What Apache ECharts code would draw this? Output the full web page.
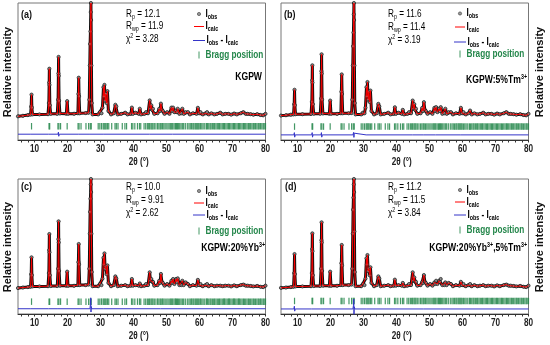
<!DOCTYPE html>
<html>
<head>
<meta charset="utf-8">
<script src="https://cdn.jsdelivr.net/npm/echarts@6.0.0/dist/echarts.min.js"></script>
<style>
html,body{margin:0;padding:0;background:#fff;}
#chart{width:550px;height:345px;}
</style>
</head>
<body>
<div id="chart"></div>
<script>
// ---------------- DATA ----------------
const twoTheta = [5.0,6.5,8.0,8.8,9.0,9.1,9.2,9.4,11.5,14.1,14.35,14.45,14.5,14.55,14.65,14.9,16.9,17.15,17.25,17.3,17.35,17.45,17.7,19.65,19.9,20.15,22.0,23.15,23.3,23.4,23.5,23.7,25.5,26.4,26.6,26.75,26.85,26.95,27.05,27.1,27.15,27.25,27.35,27.6,29.3,29.8,30.3,30.6,30.9,31.05,31.2,31.4,31.6,31.85,32.1,32.4,33.2,34.0,34.5,34.8,35.2,36.3,37.5,38.2,39.2,39.5,39.8,40.6,41.6,41.9,42.3,43.3,43.8,44.4,44.9,45.15,45.4,45.65,45.9,46.3,47.3,47.8,48.05,48.3,48.6,48.9,49.4,50.2,50.9,51.5,51.75,52.0,52.4,52.9,53.15,53.4,53.9,54.5,54.8,55.2,55.8,56.5,57.1,58.0,59.1,59.5,59.9,60.3,61.0,61.8,62.3,62.8,63.6,64.5,65.3,66.3,67.0,67.8,68.8,69.6,70.5,71.3,72.5,73.3,74.0,74.6,75.5,76.3,77.5,78.5,79.3,80.0];

const obsA = [0.3,0.8,1.4,1.8,9,19.4,8,2.0,2.0,2.2,12,30,42.2,28,10,2.5,2.5,15,38,52.6,36,14,2.8,2.6,13.7,2.6,2.6,3,20,34.3,18,3,3.2,3.5,15,45,64,75,92,100,85,45,12,2,2,4,3,8,26,18,28,14,20,12,22.5,5,2,3,10.5,9,2,2.5,3.5,2,2.5,8,2.5,3.5,2.5,7,2,2.5,4,3,14.3,7,10,6,7,2.5,3,7,5,11.5,6,5,2.5,4,2.5,8,5,8,4,5.5,4,7,2.5,3,7,2.5,4,4,2,3,2.5,7.8,3,4,2,3,4,2,3,2,2.5,3.5,2,2.5,2.5,1.8,2.8,2,3,4,2.5,2.5,2.2,1.8,2.2,1.5,1.2,2.5];
const obsB = [1.0,1.3,1.8,2.0,11,23.7,10,2.2,2.2,2.4,13,32,45.2,30,11,2.6,2.6,16,40,54.9,38,15,2.8,2.6,14.2,2.6,2.5,3,22,37.2,20,3,3,3.2,15,45,62,74,90,100,85,45,12,2,2,3.5,3,8,26,18,30.5,15,22,13,23,5,2,3,11.3,9,2,2.5,3.5,2,2.5,8.3,2.5,3.5,2.5,6,2,2.5,4,3,14.2,7,11,6,7,2.5,3,7.8,5,12.8,6,5,2.5,4,2.5,7.8,5,8.4,4,7,5,8.4,2.5,3,7,2.5,4,4,2,3,2.5,7.8,3,4,2,3,5.4,2,3,2,2.5,3.5,2,2.5,2.5,1.8,2.8,2,3,4,2.5,2.5,2.2,1.8,2.2,1.5,1.2,2.5];
const obsC = [0.3,0.8,1.2,1.5,13,28.4,12,1.8,1.8,2.0,14,35,49.7,33,12,2.2,2.2,18,45,61.3,42,16,2.5,2.4,15.3,2.4,2.4,3,24,40.6,22,3,3,3.5,18,50,70,82,95,100,88,50,15,2,2,4,3,9,28,22,32,18,20,13,21,5,2,3,11,9,2,2.5,3,2,2.5,8.6,2.5,3,2.5,4.5,2,2.5,4,3,14.7,7,8.6,6,6,2.5,3,7,5,13.2,6,5,2.5,4,2.5,7,5,8.6,4,8.6,6,9.2,3,3,7,3,5.5,4,2,3,2.5,7.8,3,4,2,3,4,2,3,2,2.5,2.5,2,2.5,2.5,1.8,2.8,2,3,3.5,2.5,2.5,2.2,1.8,2.2,1.5,1.2,2.5];
const obsD = [0.5,0.8,1.2,1.5,14,31.4,13,1.8,1.8,2.0,14,36,50.3,34,12,2.2,2.2,18,44,60.4,42,16,2.5,2.4,15.3,2.4,2.4,3,23,39.7,21,3,3,3.5,18,50,72,83,95,100,88,52,15,2,2,4,3,9,27.5,22,30.5,16,18,12,19.3,5,2,3,11,9,2,2.5,3,2,2.5,8,2.5,3,2.5,5,2,2.5,4,3,14.7,7,10,6,6,2.5,3,6,5,12.2,6,5,2.5,4,2.5,5.5,4,7,4,7,6,8.6,3,3,5.5,3,5,4,2,3,2.5,6,3,4,2,3,4,2,3,2,2.5,3,2,2.5,2.5,1.8,2.8,2,3,3.5,2.5,2.5,2.2,1.8,2.2,1.5,1.2,2.5];

// residual I_obs - I_calc : [2theta, value]
const diffA = [[5,0],[8.9,0],[9.05,1.5],[9.15,-1.5],[9.3,0],[14.3,0],[14.45,1.5],[14.55,-1.5],[14.7,0],[17.1,0],[17.25,1.8],[17.35,-1.8],[17.5,0],[23.25,0],[23.38,0.8],[23.45,-0.8],[23.6,0],[26.8,0],[27.0,1.5],[27.1,-1.5],[27.2,1.2],[27.35,0],[30.8,0],[31.0,0.8],[31.2,-0.8],[31.4,0],[44.8,0],[44.95,0.8],[45.1,-0.8],[45.3,0],[51.8,0],[52.0,0.8],[52.2,-0.8],[52.4,0],[80,0]];
const diffB = [[5,0],[8.9,0],[9.05,2],[9.15,-2],[9.3,0],[14.3,0],[14.45,2],[14.55,-2],[14.7,0],[17.1,0],[17.25,2],[17.35,-2],[17.5,0],[26.8,0],[27.0,2.2],[27.1,-2.2],[27.2,1.5],[27.35,0],[30.8,0],[31.0,1],[31.2,-1],[31.4,0],[44.8,0],[44.95,1],[45.1,-1],[45.3,0],[48.1,0],[48.3,0.8],[48.5,-0.8],[48.7,0],[51.8,0],[52.0,1],[52.2,-1],[52.4,0],[59.3,0],[59.5,0.8],[59.7,-0.8],[59.9,0],[80,0]];
const diffC = [[5,0],[8.9,0],[9.05,1.5],[9.15,-1],[9.3,0],[14.3,0],[14.45,1.8],[14.55,-1],[14.7,0],[17.1,0],[17.25,1.5],[17.35,-1],[17.5,0],[26.8,0],[26.95,4],[27.05,10],[27.12,-3],[27.2,2],[27.35,0],[30.8,0],[31.0,0.8],[31.2,-0.6],[31.4,0],[48.1,0],[48.3,0.8],[48.5,-0.6],[48.7,0],[53.2,0],[53.4,0.8],[53.6,-0.6],[53.8,0],[80,0]];
const diffD = [[5,0],[8.9,0],[9.05,2.5],[9.15,-2],[9.3,0],[14.3,0],[14.45,1.5],[14.55,-1],[14.7,0],[17.1,0],[17.25,1.5],[17.35,-1],[17.5,0],[26.8,0],[26.95,3],[27.05,9],[27.12,-5],[27.2,2],[27.35,0],[30.8,0],[31.0,0.8],[31.2,-0.6],[31.4,0],[48.1,0],[48.3,0.8],[48.5,-0.6],[48.7,0],[53.2,0],[53.4,0.8],[53.6,-0.6],[53.8,0],[80,0]];

const braggPos = [9.1,14.4,14.6,17.1,17.4,17.9,19.9,23.2,23.5,24.1,25.6,26.4,26.9,27.2,29.3,29.8,30.3,30.8,31.1,31.4,31.7,32.1,32.5,33.4,34.4,34.8,35.3,36.6,37.4,37.9,39.4,39.8,40.4,41.2,41.8,42.2,43.2,43.7,44.2,44.6,44.9,45.3,45.6,45.9,46.3,46.8,47.3,47.7,48.1,48.4,48.8,49.2,49.6,50.1,50.5,51.0,51.3,51.6,51.9,52.3,52.7,53.0,53.3,53.6,54.0,54.4,54.8,55.2,55.7,56.3,56.8,57.2,57.6,58.0,58.3,58.7,59.0,59.3,59.6,59.9,60.3,60.7,61.1,61.6,62.1,62.4,62.8,63.2,63.5,63.9,64.3,64.6,65.0,65.4,65.8,66.1,66.5,66.9,67.3,67.6,68.0,68.4,68.8,69.1,69.5,69.9,70.3,70.6,71.0,71.4,71.8,72.1,72.5,72.9,73.3,73.6,74.0,74.4,74.8,75.1,75.5,75.9,76.3,76.6,77.0,77.4,77.8,78.1,78.5,78.9,79.3,79.6,80.0];

const xTickLabels = [10,20,30,40,50,60,70,80];
const xMinorTicks = [6,8,10,12,14,16,18,20,22,24,26,28,30,32,34,36,38,40,42,44,46,48,50,52,54,56,58,60,62,64,66,68,70,72,74,76,78,80];

const panelLetters = ['(a)','(b)','(c)','(d)'];
const Rp  = ['12.1','11.6','10.0','11.2'];
const Rwp = ['11.9','11.4','9.91','11.5'];
const chi2 = ['3.28','3.19','2.62','3.84'];
const sampleLabels = ['KGPW','KGPW:5%Tm{sup|3+}','KGPW:20%Yb{sup|3+}','KGPW:20%Yb{sup|3+},5%Tm{sup|3+}'];

// ---------------- LAYOUT ----------------
const SANS = '"Liberation Sans",Arial,sans-serif';
const SX = 0.82; // horizontal text compression of the original figure
const obsSets = [obsA, obsB, obsC, obsD];
const diffSets = [diffA, diffB, diffC, diffD];

const panels = [
  {grid:{left:18, top:3, width:247.5, height:137}, yMin:-20.5, diffOff:-15.4, braggY:-8.4,
   letter:[21,15], statsX:126, statsY:[14,26.5,39], legX:199, legY:[14,26.5,40.5,55], sampleX:262, sampleY:77, yTitle:[8,72]},
  {grid:{left:281, top:3, width:247.5, height:137}, yMin:-20.5, diffOff:-16.0, braggY:-8.7,
   letter:[284,15], statsX:388, statsY:[14,27,40], legX:460, legY:[13.5,27,42,54], sampleX:527, sampleY:80, yTitle:[540,72]},
  {grid:{left:18, top:179, width:247.5, height:135}, yMin:-23.4, diffOff:-18.6, braggY:-12.1,
   letter:[21,187], statsX:126, statsY:[187,200,213.5], legX:199, legY:[191,203,215,231], sampleX:265, sampleY:248, yTitle:[8,247]},
  {grid:{left:281, top:179, width:247.5, height:135}, yMin:-23.4, diffOff:-18.8, braggY:-11.5,
   letter:[285,187], statsX:388, statsY:[187,200,213.5], legX:460, legY:[190,202,215,230], sampleX:527, sampleY:248, yTitle:[540,247]}
];

const GREEN = '#23864a';
const BLUE = '#3434c8';
const RED = '#ff0000';

const grids = [], xAxes = [], yAxes = [], series = [], graphics = [];

function txt(x, y, style) {
  return {type:'text', x:x, y:y, scaleX:SX, scaleY:1, style:Object.assign({textVerticalAlign:'middle'}, style)};
}

panels.forEach((p, i) => {
  grids.push(Object.assign({show:true, borderColor:'#777', borderWidth:1, containLabel:false}, p.grid));
  xAxes.push({
    gridIndex:i, type:'value', min:5, max:80,
    axisLine:{show:true, onZero:false, lineStyle:{color:'#333', width:1}},
    axisTick:{show:true, customValues:xMinorTicks, length:2.5, inside:false, lineStyle:{color:'#333', width:1}},
    axisLabel:{show:false, customValues:xTickLabels},
    splitLine:{show:false}
  });
  yAxes.push({
    gridIndex:i, type:'value', min:p.yMin, max:100,
    axisLine:{show:false}, axisTick:{show:false}, axisLabel:{show:false}, splitLine:{show:false}
  });
  const obs = obsSets[i];
  const pts = twoTheta.map((t, k) => [t, obs[k]]);
  series.push({
    type:'line', xAxisIndex:i, yAxisIndex:i, data:pts, z:2,
    symbol:'circle', symbolSize:3.2, showSymbol:true, showAllSymbol:true,
    lineStyle:{color:'#111', width:3},
    itemStyle:{color:'#8a8a8a', borderColor:'#111', borderWidth:0.7},
    animation:false, silent:true
  });
  series.push({
    type:'line', xAxisIndex:i, yAxisIndex:i, data:pts, z:3,
    symbol:'none', lineStyle:{color:RED, width:1}, animation:false, silent:true
  });
  series.push({
    type:'line', xAxisIndex:i, yAxisIndex:i, z:3,
    data:diffSets[i].map(d => [d[0], d[1] + p.diffOff]),
    symbol:'none', lineStyle:{color:BLUE, width:1}, animation:false, silent:true
  });
  series.push({
    type:'scatter', xAxisIndex:i, yAxisIndex:i, z:2,
    data:braggPos.map(b => [b, p.braggY]),
    symbol:'rect', symbolSize:[1.2, 6.5],
    itemStyle:{color:GREEN, opacity:0.85}, animation:false, silent:true
  });

  // x tick labels (bold, compressed like the original)
  const g = p.grid;
  const bottom = g.top + g.height;
  xTickLabels.forEach(v => {
    const px = g.left + (v - 5) / 75 * g.width;
    graphics.push(txt(px, bottom + 9.5, {text:String(v), font:'bold 10px ' + SANS, fill:'#222', textAlign:'center'}));
  });
  graphics.push(txt(g.left + g.width / 2 - 3, bottom + 22, {text:'2θ (°)', font:'bold 10px ' + SANS, fill:'#222', textAlign:'center'}));

  // panel letter
  graphics.push(txt(p.letter[0], p.letter[1], {text:panelLetters[i], font:'bold 11px ' + SANS, fill:'#111', textAlign:'left'}));
  // statistics
  const statRich = {
    n:{fontSize:10, fontFamily:SANS, color:'#333', lineHeight:13, verticalAlign:'middle'},
    sb:{fontSize:6.5, fontFamily:SANS, color:'#333', lineHeight:6, verticalAlign:'bottom'},
    sp:{fontSize:6.5, fontFamily:SANS, color:'#333', lineHeight:6, verticalAlign:'top'}
  };
  graphics.push(txt(p.statsX, p.statsY[0], {text:'{n|R}{sb|p}{n| = ' + Rp[i] + '}', rich:statRich, textAlign:'left'}));
  graphics.push(txt(p.statsX, p.statsY[1], {text:'{n|R}{sb|wp}{n| = ' + Rwp[i] + '}', rich:statRich, textAlign:'left'}));
  graphics.push(txt(p.statsX, p.statsY[2], {text:'{n|χ}{sp|2}{n| = ' + chi2[i] + '}', rich:statRich, textAlign:'left'}));

  // legend
  const lx = p.legX, tx = p.legX + 6.5;
  const mk = (col) => ({
    n:{fontSize:10, fontFamily:SANS, fontWeight:'bold', color:col, lineHeight:13, verticalAlign:'middle'},
    sb:{fontSize:6.5, fontFamily:SANS, fontWeight:'bold', color:col, lineHeight:6, verticalAlign:'bottom'}
  });
  graphics.push({type:'circle', shape:{cx:lx, cy:p.legY[0], r:1.6}, style:{fill:'#999', stroke:'#333', lineWidth:0.6}});
  graphics.push(txt(tx, p.legY[0], {text:'{n|I}{sb|obs}', rich:mk('#111'), textAlign:'left'}));
  graphics.push({type:'line', shape:{x1:lx-5, y1:p.legY[1], x2:lx+5, y2:p.legY[1]}, style:{stroke:RED, lineWidth:1}});
  graphics.push(txt(tx, p.legY[1], {text:'{n|I}{sb|calc}', rich:mk(RED), textAlign:'left'}));
  graphics.push({type:'line', shape:{x1:lx-6, y1:p.legY[2], x2:lx+6, y2:p.legY[2]}, style:{stroke:BLUE, lineWidth:1}});
  graphics.push(txt(tx + 1, p.legY[2], {text:'{n|I}{sb|obs}{n| - I}{sb|calc}', rich:mk(BLUE), textAlign:'left'}));
  graphics.push({type:'line', shape:{x1:lx, y1:p.legY[3]-3.5, x2:lx, y2:p.legY[3]+3.5}, style:{stroke:GREEN, lineWidth:1, opacity:0.85}});
  graphics.push(txt(tx, p.legY[3], {text:'Bragg position', font:'bold 10px ' + SANS, fill:GREEN, textAlign:'left'}));

  // sample label
  graphics.push(txt(p.sampleX, p.sampleY, {
    text:'{n|' + sampleLabels[i].replace(/\{sup\|3\+\}/g, '}{sup|3+}{n|') + '}',
    rich:{n:{fontSize:10.5, fontWeight:'bold', fontFamily:SANS, color:'#111', lineHeight:13, verticalAlign:'middle'},
          sup:{fontSize:6.5, fontWeight:'bold', fontFamily:SANS, color:'#111', lineHeight:6, verticalAlign:'top'}},
    textAlign:'right'}));

  // y-axis title (vertical text: not compressed along its length)
  graphics.push({type:'text', x:p.yTitle[0], y:p.yTitle[1], rotation:Math.PI/2,
    style:{text:'Relative intensity', font:'bold 11px ' + SANS, fill:'#111', textAlign:'center', textVerticalAlign:'middle'}});
});

const chart = echarts.init(document.getElementById('chart'), null, {renderer:'canvas'});
chart.setOption({
  animation:false,
  backgroundColor:'#fff',
  grid:grids, xAxis:xAxes, yAxis:yAxes, series:series,
  graphic:{elements:graphics}
});
</script>
</body>
</html>
